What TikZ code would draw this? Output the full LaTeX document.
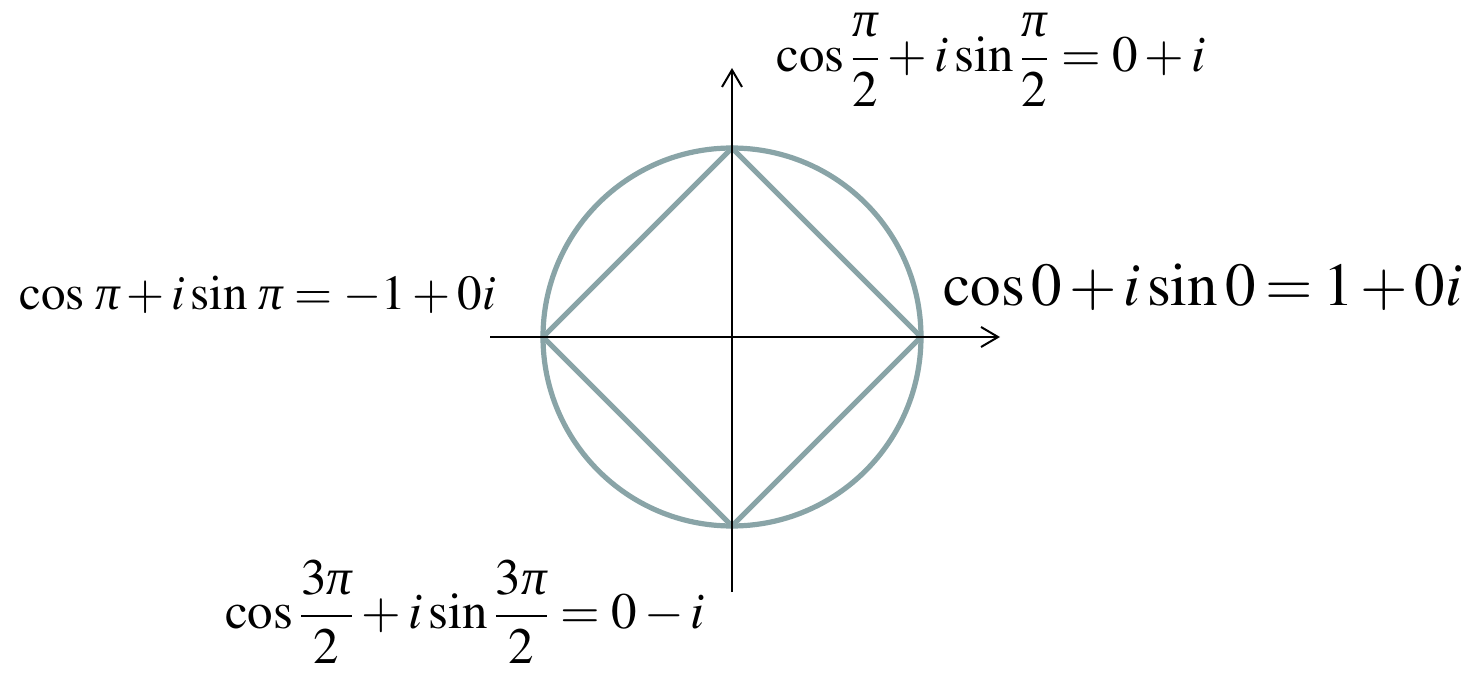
\documentclass[tikz,border=0pt]{standalone}
\usepackage{mathptmx}
\usepackage{fontspec}
\setmainfont{Liberation Serif}
\usetikzlibrary{arrows.meta}
\definecolor{ringgray}{RGB}{137,164,167}
\newcommand{\ipi}{\mathord{\mbox{\itshape π}}}
\tikzset{
  >={Straight Barb[length=8.5pt,width=10pt]},
  axis/.style={->,draw=black,line width=1pt},
  ring/.style={draw=ringgray,line width=2.6pt},
  chord/.style={draw=ringgray,line width=2.6pt,line join=miter},
  eqlabel/.style={inner sep=0pt,font=\fontsize{24.5}{29}\selectfont},
  fraclabel/.style={inner sep=0pt,font=\fontsize{25.5}{30}\selectfont},
  bigeq/.style={inner sep=0pt,font=\fontsize{30.5}{36}\selectfont}
}

\begin{document}
\begin{tikzpicture}[x=0.5pt,y=0.5pt]
  \useasboundingbox (0,0) rectangle (1468,676);

  % points on the unit circle
  \coordinate (o) at (732,339);
  \coordinate (east) at (921,339);
  \coordinate (north) at (732,528);
  \coordinate (west) at (543,339);
  \coordinate (south) at (732,150);

  % axis ends
  \coordinate (xstart) at (490,339);
  \coordinate (xend) at (1000,339);
  \coordinate (ystart) at (732,84);
  \coordinate (yend) at (732,608);

  \draw[ring] (o) circle (189);
  \draw[chord] (east) -- (north) -- (west) -- (south) -- cycle;

  \draw[axis] (xstart) -- (xend);
  \draw[axis] (ystart) -- (yend);

  \node[bigeq,anchor=base] at (1203,371) (eqeast) {\medmuskip=2mu\thickmuskip=3mu$\cos 0 + i\sin 0 = 1 + 0i$};
  \node[fraclabel,anchor=center] at (991,616) (eqnorth) {$\displaystyle\cos\frac{\ipi}{2} + i\sin\frac{\ipi}{2} = 0 + i$};
  \node[eqlabel,anchor=base] at (257.5,366) (eqwest) {$\cos\,\ipi + i\sin\,\ipi = -1 + 0i$};
  \node[fraclabel,anchor=center] at (465,64) (eqsouth) {$\displaystyle\cos\frac{3\ipi}{2} + i\sin\frac{3\ipi}{2} = 0 - i$};

\end{tikzpicture}
\end{document}
